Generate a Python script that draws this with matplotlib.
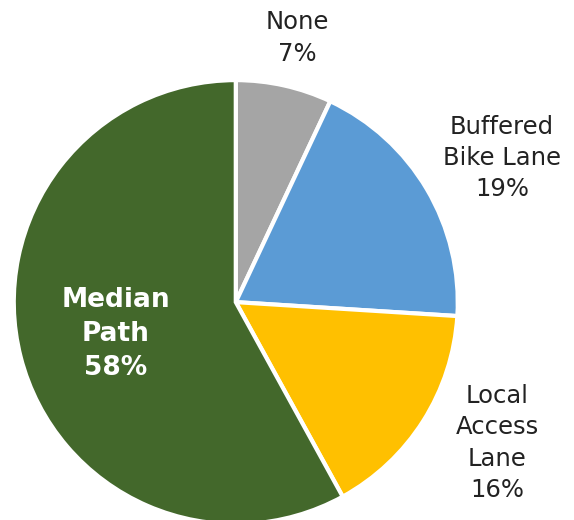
import matplotlib

matplotlib.use('Agg')
import matplotlib.pyplot as plt

labels = ['None', 'Buffered\nBike Lane', 'Local\nAccess\nLane', 'Median\nPath']
shares = [7, 19, 16, 58]
colors = ['#A5A5A5', '#5B9BD5', '#FFC000', '#43682B']

# label anchor points in figure pixels (x, y from top)
label_px = [(297, 38), (502, 158), (497, 443), (116, 334)]

W, H = 574, 520
fig = plt.figure(figsize=(W / 100, H / 100), dpi=100)
ax = fig.add_axes([0.024, -0.008, 0.7735, 0.854])
ax.pie(shares, colors=colors, startangle=90, counterclock=False,
       wedgeprops=dict(edgecolor='white', linewidth=3))
ax.set_xlim(-1, 1)
ax.set_ylim(-1, 1)
ax.set_aspect('equal')

for lab, val, (px, py), i in zip(labels, shares, label_px, range(len(labels))):
    txt = '%s\n%d%%' % (lab, val)
    if i == 3:
        fig.text(px / W, 1 - py / H, txt, ha='center', va='center', color='white',
                 fontsize=19, fontweight='bold', family='DejaVu Sans', linespacing=1.4)
    else:
        fig.text(px / W, 1 - py / H, txt, ha='center', va='center', color='#222222',
                 fontsize=17.5, family='DejaVu Sans', linespacing=1.38)

fig.savefig('out.png', dpi=100)
